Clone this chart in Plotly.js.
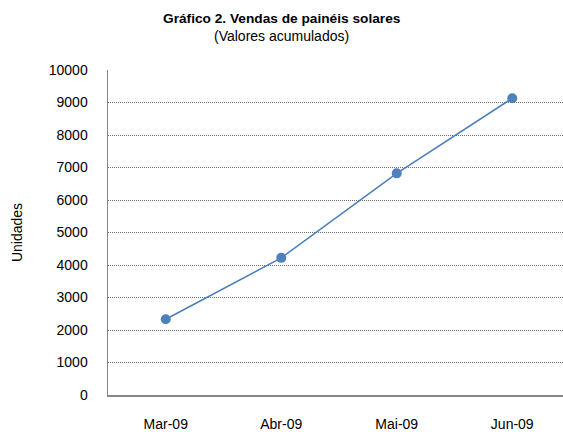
<!DOCTYPE html>
<html><head><meta charset="utf-8">
<script src="https://cdn.plot.ly/plotly-3.0.1.min.js"></script>
<style>html,body{margin:0;padding:0;overflow:hidden;background:#fff;}#c{width:570px;height:432px;}</style>
</head><body><div id="c"></div>
<script>
const months = ["Mar-09", "Abr-09", "Mai-09", "Jun-09"];
const unidades = [2330, 4220, 6820, 9130];
const yTicks = [0,1000,2000,3000,4000,5000,6000,7000,8000,9000,10000];
const titleText = "Gráfico 2. Vendas de painéis solares";
const subtitleText = "(Valores acumulados)";

const font = "Liberation Sans, Arial, sans-serif";
Plotly.newPlot('c', [{
  x: months, y: unidades, type: 'scatter', mode: 'lines+markers',
  line: {color: '#4A7EBB', width: 1.5},
  marker: {color: '#4F81BD', size: 10},
  cliponaxis: false
}], {
  width: 570, height: 432,
  margin: {l: 108, r: 0, t: 70, b: 37},
  paper_bgcolor: '#fff', plot_bgcolor: '#fff',
  font: {family: font, color: '#000', size: 14},
  showlegend: false,
  annotations: [
    {text: '<b>' + titleText + '</b>', xref: 'paper', yref: 'paper', x: 0.376, y: 1.16,
     xanchor: 'center', yanchor: 'middle', showarrow: false, font: {family: font, size: 13.7, color: '#000'}},
    {text: subtitleText, xref: 'paper', yref: 'paper', x: 0.376, y: 1.105,
     xanchor: 'center', yanchor: 'middle', showarrow: false, font: {family: font, size: 14, color: '#000'}}
  ],
  xaxis: {type: 'category', range: [-0.5, 3.5], showgrid: false, zeroline: false,
    showline: true, linecolor: '#868686', linewidth: 1.5, ticks: '',
    ticklabelstandoff: 16, tickfont: {size: 14, family: font}},
  yaxis: {range: [0, 10000], tickvals: yTicks, ticktext: yTicks.map(String),
    showgrid: true, gridcolor: '#6e6e6e', griddash: '1px,1px', gridwidth: 1,
    zeroline: false, showline: true, linecolor: '#868686', linewidth: 1.5, ticks: '',
    ticklabelstandoff: 16, tickfont: {size: 14, family: font},
    title: {text: 'Unidades', font: {size: 14, family: font}, standoff: 23}}
}, {staticPlot: true});
</script></body></html>
